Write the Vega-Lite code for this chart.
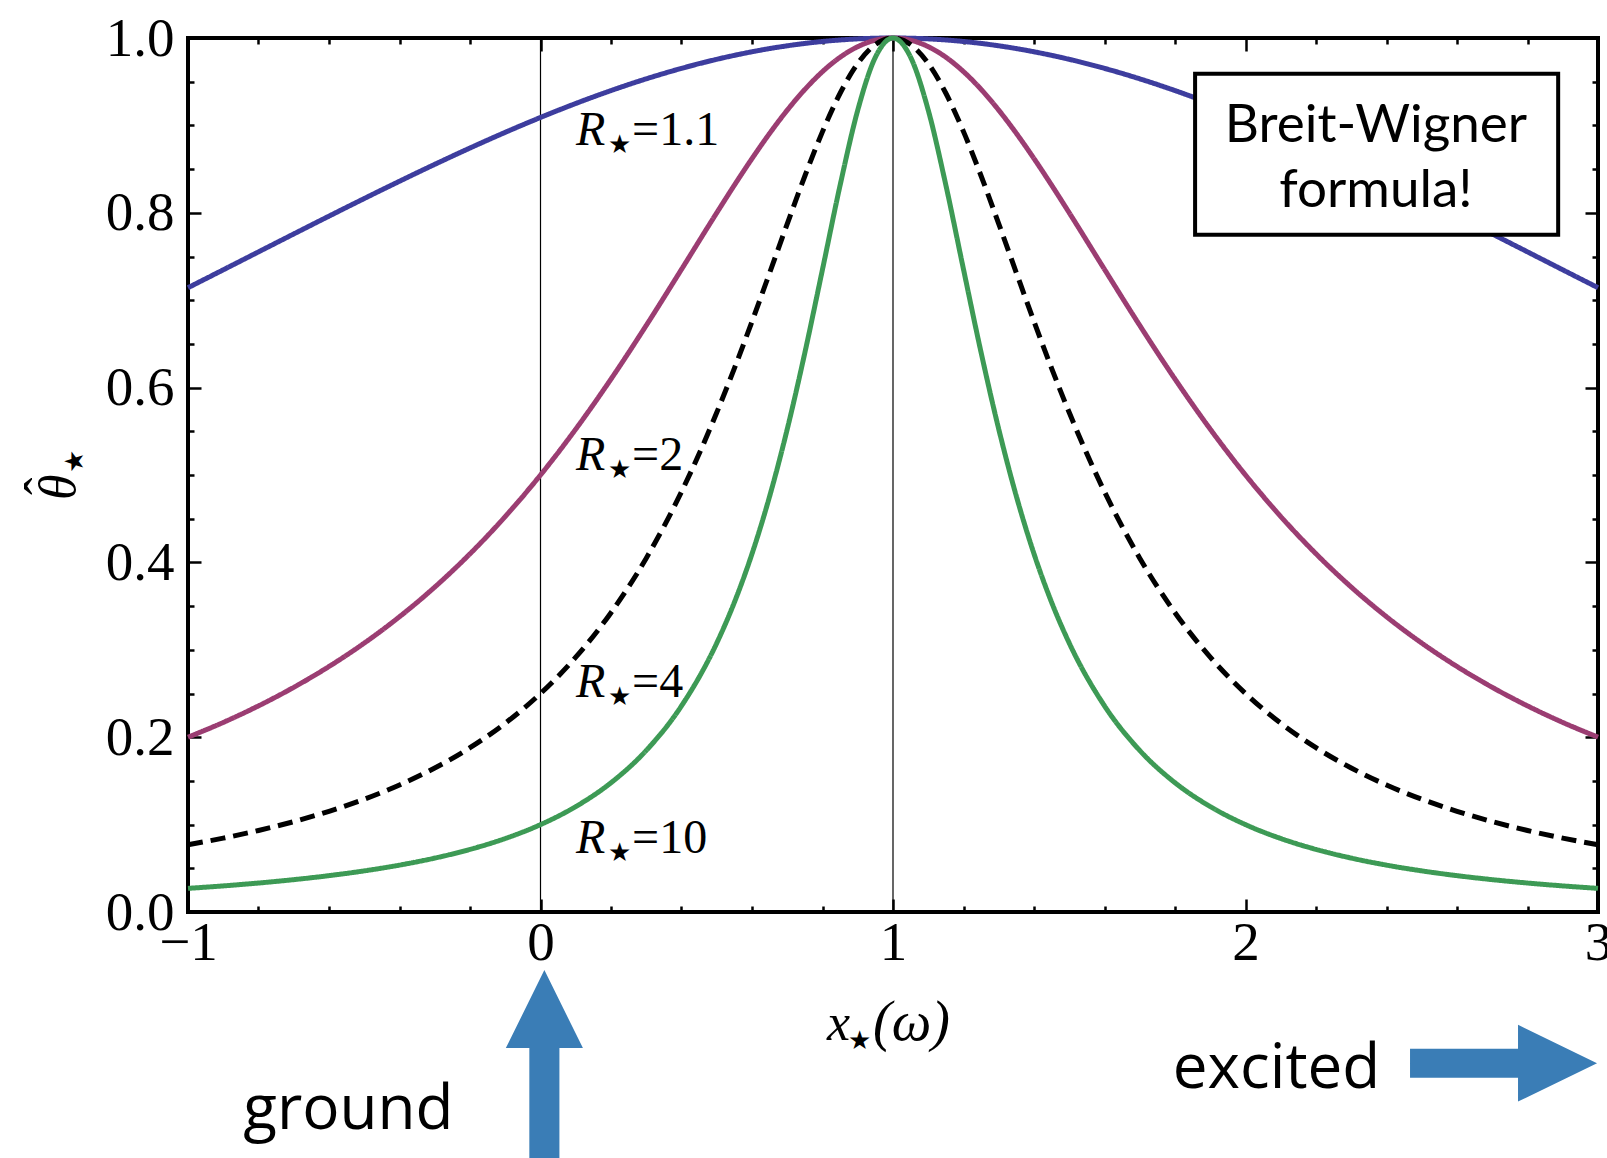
{
  "$schema": "https://vega.github.io/schema/vega-lite/v6.json",
  "width": 1410,
  "height": 874,
  "autosize": {"type": "none"},
  "padding": {"left": 188, "top": 38, "right": 9, "bottom": 246},
  "background": "white",
  "datasets": {
    "curves": [
      {"x": -1, "R1_1": 0.71429, "R2": 0.2, "R4": 0.07692, "R10": 0.02703},
      {"x": -0.9, "R1_1": 0.73475, "R2": 0.21692, "R4": 0.08453, "R10": 0.02986},
      {"x": -0.8, "R1_1": 0.75529, "R2": 0.23585, "R4": 0.09328, "R10": 0.03316},
      {"x": -0.7, "R1_1": 0.7758, "R2": 0.25707, "R4": 0.10341, "R10": 0.03702},
      {"x": -0.6, "R1_1": 0.79618, "R2": 0.2809, "R4": 0.11521, "R10": 0.0416},
      {"x": -0.5, "R1_1": 0.81633, "R2": 0.30769, "R4": 0.12903, "R10": 0.04706},
      {"x": -0.4, "R1_1": 0.83612, "R2": 0.33784, "R4": 0.14535, "R10": 0.05365},
      {"x": -0.3, "R1_1": 0.85543, "R2": 0.37175, "R4": 0.16474, "R10": 0.06169},
      {"x": -0.2, "R1_1": 0.87413, "R2": 0.40984, "R4": 0.18797, "R10": 0.07163},
      {"x": -0.1, "R1_1": 0.89206, "R2": 0.45249, "R4": 0.21598, "R10": 0.0841},
      {"x": 0, "R1_1": 0.90909, "R2": 0.5, "R4": 0.25, "R10": 0.1},
      {"x": 0.1, "R1_1": 0.92507, "R2": 0.55249, "R4": 0.29155, "R10": 0.12063},
      {"x": 0.2, "R1_1": 0.93985, "R2": 0.60976, "R4": 0.34247, "R10": 0.14793},
      {"x": 0.3, "R1_1": 0.95329, "R2": 0.67114, "R4": 0.40486, "R10": 0.18484},
      {"x": 0.4, "R1_1": 0.96525, "R2": 0.73529, "R4": 0.48077, "R10": 0.23585},
      {"x": 0.5, "R1_1": 0.97561, "R2": 0.8, "R4": 0.57143, "R10": 0.30769},
      {"x": 0.55, "R1_1": 0.98015, "R2": 0.8316, "R4": 0.62208, "R10": 0.3543},
      {"x": 0.6, "R1_1": 0.98425, "R2": 0.86207, "R4": 0.67568, "R10": 0.40984},
      {"x": 0.65, "R1_1": 0.9879, "R2": 0.89087, "R4": 0.73126, "R10": 0.47562},
      {"x": 0.7, "R1_1": 0.99108, "R2": 0.91743, "R4": 0.7874, "R10": 0.55249},
      {"x": 0.75, "R1_1": 0.99379, "R2": 0.94118, "R4": 0.84211, "R10": 0.64},
      {"x": 0.8, "R1_1": 0.99602, "R2": 0.96154, "R4": 0.89286, "R10": 0.73529},
      {"x": 0.85, "R1_1": 0.99776, "R2": 0.978, "R4": 0.93677, "R10": 0.8316},
      {"x": 0.9, "R1_1": 0.999, "R2": 0.9901, "R4": 0.97087, "R10": 0.91743},
      {"x": 0.95, "R1_1": 0.99975, "R2": 0.99751, "R4": 0.99256, "R10": 0.978},
      {"x": 1, "R1_1": 1, "R2": 1, "R4": 1, "R10": 1},
      {"x": 1.05, "R1_1": 0.99975, "R2": 0.99751, "R4": 0.99256, "R10": 0.978},
      {"x": 1.1, "R1_1": 0.999, "R2": 0.9901, "R4": 0.97087, "R10": 0.91743},
      {"x": 1.15, "R1_1": 0.99776, "R2": 0.978, "R4": 0.93677, "R10": 0.8316},
      {"x": 1.2, "R1_1": 0.99602, "R2": 0.96154, "R4": 0.89286, "R10": 0.73529},
      {"x": 1.25, "R1_1": 0.99379, "R2": 0.94118, "R4": 0.84211, "R10": 0.64},
      {"x": 1.3, "R1_1": 0.99108, "R2": 0.91743, "R4": 0.7874, "R10": 0.55249},
      {"x": 1.35, "R1_1": 0.9879, "R2": 0.89087, "R4": 0.73126, "R10": 0.47562},
      {"x": 1.4, "R1_1": 0.98425, "R2": 0.86207, "R4": 0.67568, "R10": 0.40984},
      {"x": 1.45, "R1_1": 0.98015, "R2": 0.8316, "R4": 0.62208, "R10": 0.3543},
      {"x": 1.5, "R1_1": 0.97561, "R2": 0.8, "R4": 0.57143, "R10": 0.30769},
      {"x": 1.6, "R1_1": 0.96525, "R2": 0.73529, "R4": 0.48077, "R10": 0.23585},
      {"x": 1.7, "R1_1": 0.95329, "R2": 0.67114, "R4": 0.40486, "R10": 0.18484},
      {"x": 1.8, "R1_1": 0.93985, "R2": 0.60976, "R4": 0.34247, "R10": 0.14793},
      {"x": 1.9, "R1_1": 0.92507, "R2": 0.55249, "R4": 0.29155, "R10": 0.12063},
      {"x": 2, "R1_1": 0.90909, "R2": 0.5, "R4": 0.25, "R10": 0.1},
      {"x": 2.1, "R1_1": 0.89206, "R2": 0.45249, "R4": 0.21598, "R10": 0.0841},
      {"x": 2.2, "R1_1": 0.87413, "R2": 0.40984, "R4": 0.18797, "R10": 0.07163},
      {"x": 2.3, "R1_1": 0.85543, "R2": 0.37175, "R4": 0.16474, "R10": 0.06169},
      {"x": 2.4, "R1_1": 0.83612, "R2": 0.33784, "R4": 0.14535, "R10": 0.05365},
      {"x": 2.5, "R1_1": 0.81633, "R2": 0.30769, "R4": 0.12903, "R10": 0.04706},
      {"x": 2.6, "R1_1": 0.79618, "R2": 0.2809, "R4": 0.11521, "R10": 0.0416},
      {"x": 2.7, "R1_1": 0.7758, "R2": 0.25707, "R4": 0.10341, "R10": 0.03702},
      {"x": 2.8, "R1_1": 0.75529, "R2": 0.23585, "R4": 0.09328, "R10": 0.03316},
      {"x": 2.9, "R1_1": 0.73475, "R2": 0.21692, "R4": 0.08453, "R10": 0.02986},
      {"x": 3, "R1_1": 0.71429, "R2": 0.2, "R4": 0.07692, "R10": 0.02703}
    ],
    "labels": [
      {"lx": 0.101, "ly": 0.878, "v": "=1.1"},
      {"lx": 0.101, "ly": 0.506, "v": "=2"},
      {"lx": 0.101, "ly": 0.246, "v": "=4"},
      {"lx": 0.101, "ly": 0.0675, "v": "=10"}
    ],
    "xtitle": [{"tx": 0.8128, "ty": -0.1465}],
    "ytitle": [{"tx": -1.3206, "ty": 0.4714}]
  },
  "resolve": {"axis": {"x": "independent", "y": "independent"}},
  "layer": [
    {
      "data": {"values": [{"x": 0}, {"x": 1}]},
      "mark": {"type": "rule", "color": "black", "strokeWidth": 1.2},
      "encoding": {
        "x": {"field": "x", "type": "quantitative",
          "scale": {"domain": [-1, 3], "nice": false, "zero": false},
          "axis": {"orient": "bottom", "values": [-1, 0, 1, 2, 3], "format": "d", "tickSize": -13, "labelPadding": 17, "labelFlush": false, "title": null}}
      }
    },
    {
      "data": {"name": "curves"},
      "transform": [{"fold": ["R1_1", "R2", "R4", "R10"], "as": ["R", "y"]}],
      "mark": {"type": "line", "strokeWidth": 5, "interpolate": "monotone"},
      "encoding": {
        "x": {"field": "x", "type": "quantitative",
          "scale": {"domain": [-1, 3], "nice": false, "zero": false},
          "axis": {"orient": "bottom", "values": [-0.8, -0.6, -0.4, -0.2, 0.2, 0.4, 0.6, 0.8, 1.2, 1.4, 1.6, 1.8, 2.2, 2.4, 2.6, 2.8], "tickSize": -6, "labels": false, "title": null}},
        "y": {"field": "y", "type": "quantitative",
          "scale": {"domain": [0, 1], "nice": false, "zero": false},
          "axis": {"orient": "left", "values": [0, 0.2, 0.4, 0.6, 0.8, 1], "format": ".1f", "tickSize": -13, "labelPadding": 27, "labelFlush": false, "title": null}},
        "color": {"field": "R", "type": "nominal", "legend": null,
          "scale": {"domain": ["R1_1", "R2", "R4", "R10"], "range": ["#3d3d9e", "#9b3d72", "#000000", "#3d9a55"]}},
        "strokeDash": {"field": "R", "type": "nominal", "legend": null,
          "scale": {"domain": ["R1_1", "R2", "R4", "R10"], "range": [[1, 0], [1, 0], [15, 8], [1, 0]]}}
      }
    },
    {
      "data": {"name": "labels"},
      "mark": {"type": "text", "text": "R", "font": "Liberation Serif", "fontStyle": "italic", "fontSize": 48, "align": "left", "baseline": "alphabetic", "color": "black"},
      "encoding": {
        "x": {"field": "lx", "type": "quantitative",
          "scale": {"domain": [-1, 3], "nice": false, "zero": false},
          "axis": {"orient": "top", "values": [-1, 0, 1, 2, 3], "tickSize": -13, "labels": false, "title": null}},
        "y": {"field": "ly", "type": "quantitative",
          "scale": {"domain": [0, 1], "nice": false, "zero": false},
          "axis": {"orient": "left", "values": [0.05, 0.1, 0.15, 0.25, 0.3, 0.35, 0.45, 0.5, 0.55, 0.65, 0.7, 0.75, 0.85, 0.9, 0.95], "tickSize": -6, "labels": false, "title": null}}
      }
    },
    {
      "data": {"name": "labels"},
      "mark": {"type": "text", "text": "★", "font": "DejaVu Sans", "fontSize": 26, "align": "left", "baseline": "alphabetic", "dx": 32, "dy": 8, "color": "black"},
      "encoding": {
        "x": {"field": "lx", "type": "quantitative",
          "scale": {"domain": [-1, 3], "nice": false, "zero": false},
          "axis": {"orient": "top", "values": [-0.8, -0.6, -0.4, -0.2, 0.2, 0.4, 0.6, 0.8, 1.2, 1.4, 1.6, 1.8, 2.2, 2.4, 2.6, 2.8], "tickSize": -6, "labels": false, "title": null}},
        "y": {"field": "ly", "type": "quantitative",
          "scale": {"domain": [0, 1], "nice": false, "zero": false},
          "axis": {"orient": "right", "values": [0, 0.2, 0.4, 0.6, 0.8, 1], "tickSize": -13, "labels": false, "title": null}}
      }
    },
    {
      "data": {"name": "labels"},
      "mark": {"type": "text", "font": "Liberation Serif", "fontSize": 48, "align": "left", "baseline": "alphabetic", "dx": 56, "color": "black"},
      "encoding": {
        "x": {"field": "lx", "type": "quantitative", "scale": {"domain": [-1, 3], "nice": false, "zero": false}, "axis": null},
        "y": {"field": "ly", "type": "quantitative",
          "scale": {"domain": [0, 1], "nice": false, "zero": false},
          "axis": {"orient": "right", "values": [0.05, 0.1, 0.15, 0.25, 0.3, 0.35, 0.45, 0.5, 0.55, 0.65, 0.7, 0.75, 0.85, 0.9, 0.95], "tickSize": -6, "labels": false, "title": null}},
        "text": {"field": "v", "type": "nominal"}
      }
    },
    {
      "data": {"name": "xtitle"},
      "layer": [
        {"mark": {"type": "text", "text": "x", "font": "Liberation Serif", "fontStyle": "italic", "fontSize": 52, "align": "left", "baseline": "alphabetic", "color": "black"}},
        {"mark": {"type": "text", "text": "★", "font": "DejaVu Sans", "fontSize": 26, "align": "left", "baseline": "alphabetic", "dx": 21, "dy": 9, "color": "black"}},
        {"mark": {"type": "text", "text": "(ω)", "font": "Liberation Serif", "fontStyle": "italic", "fontSize": 56, "align": "left", "baseline": "alphabetic", "dx": 46, "color": "black"}}
      ],
      "encoding": {
        "x": {"field": "tx", "type": "quantitative", "axis": null},
        "y": {"field": "ty", "type": "quantitative", "axis": null}
      }
    },
    {
      "data": {"name": "ytitle"},
      "layer": [
        {"mark": {"type": "text", "text": "θ", "font": "Liberation Serif", "fontStyle": "italic", "fontSize": 52, "angle": 270, "align": "left", "baseline": "alphabetic", "color": "black"}},
        {"mark": {"type": "text", "text": "ˆ", "font": "Liberation Serif", "fontSize": 52, "angle": 270, "align": "left", "baseline": "alphabetic", "dx": 5, "dy": -14, "color": "black"}},
        {"mark": {"type": "text", "text": "★", "font": "DejaVu Sans", "fontSize": 26, "angle": 270, "align": "left", "baseline": "alphabetic", "dx": 27, "dy": 8, "color": "black"}}
      ],
      "encoding": {
        "x": {"field": "tx", "type": "quantitative", "axis": null},
        "y": {"field": "ty", "type": "quantitative", "axis": null}
      }
    },
    {
      "data": {"values": [{"bx": 1.857, "bx2": 2.887, "by": 0.959, "by2": 0.775}]},
      "mark": {"type": "rect", "fill": "white", "stroke": "black", "strokeWidth": 4},
      "encoding": {
        "x": {"field": "bx", "type": "quantitative", "axis": null},
        "x2": {"field": "bx2"},
        "y": {"field": "by", "type": "quantitative", "axis": null},
        "y2": {"field": "by2"}
      }
    },
    {
      "data": {"values": [
        {"tx": 2.37, "ty": 0.881, "t": "Breit-Wigner"},
        {"tx": 2.37, "ty": 0.807, "t": "formula!"}
      ]},
      "mark": {"type": "text", "font": "Lato", "fontSize": 53, "align": "center", "baseline": "alphabetic", "color": "black"},
      "encoding": {
        "x": {"field": "tx", "type": "quantitative", "axis": null},
        "y": {"field": "ty", "type": "quantitative", "axis": null},
        "text": {"field": "t", "type": "nominal"}
      }
    },
    {
      "data": {"values": [
        {"tx": -0.545, "ty": -0.248, "t": "ground"},
        {"tx": 2.088, "ty": -0.201, "t": "excited"}
      ]},
      "mark": {"type": "text", "font": "Open Sans", "fontSize": 62, "align": "center", "baseline": "alphabetic", "color": "black"},
      "encoding": {
        "x": {"field": "tx", "type": "quantitative", "axis": null},
        "y": {"field": "ty", "type": "quantitative", "axis": null},
        "text": {"field": "t", "type": "nominal"}
      }
    },
    {
      "data": {"values": [{"px": 0.011, "py": -0.174}]},
      "mark": {"type": "point", "filled": true, "opacity": 1, "color": "#3a7db6", "size": 35344,
        "shape": "M0,-1L0.41,-0.17L0.16,-0.17L0.16,1L-0.16,1L-0.16,-0.17L-0.41,-0.17Z"},
      "encoding": {
        "x": {"field": "px", "type": "quantitative", "axis": null},
        "y": {"field": "py", "type": "quantitative", "axis": null}
      }
    },
    {
      "data": {"values": [{"px": 2.732, "py": -0.173}]},
      "mark": {"type": "point", "filled": true, "opacity": 1, "color": "#3a7db6", "size": 34969,
        "shape": "M1,0L0.155,-0.41L0.155,-0.155L-1,-0.155L-1,0.155L0.155,0.155L0.155,0.41Z"},
      "encoding": {
        "x": {"field": "px", "type": "quantitative", "axis": null},
        "y": {"field": "py", "type": "quantitative", "axis": null}
      }
    }
  ],
  "config": {
    "view": {"stroke": "black", "strokeWidth": 4},
    "axis": {"grid": false, "domain": false, "tickColor": "black", "tickWidth": 2.5, "labelColor": "black",
      "labelFont": "Liberation Serif", "labelFontSize": 55, "titleColor": "black"}
  }
}
